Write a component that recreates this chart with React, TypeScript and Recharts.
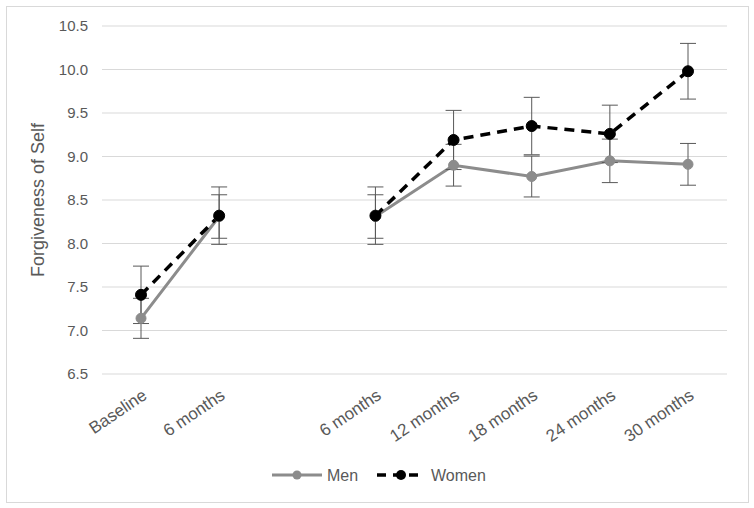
import React from "react";
import {
  LineChart,
  Line,
  XAxis,
  YAxis,
  CartesianGrid,
  ErrorBar,
  Legend,
} from "recharts";

const categories = ["Baseline", "6 months", "", "6 months", "12 months", "18 months", "24 months", "30 months"];
const menValues: (number | null)[] = [7.14, 8.31, null, 8.31, 8.9, 8.77, 8.95, 8.91];
const menErrors: (number | null)[] = [0.23, 0.25, null, 0.25, 0.24, 0.235, 0.25, 0.24];
const womenValues: (number | null)[] = [7.41, 8.32, null, 8.32, 9.19, 9.35, 9.26, 9.98];
const womenErrors: (number | null)[] = [0.33, 0.33, null, 0.33, 0.34, 0.33, 0.33, 0.32];
const yTicks = [6.5, 7.0, 7.5, 8.0, 8.5, 9.0, 9.5, 10.0, 10.5];

const data = categories.map((c, i) => ({
  key: `c${i}`,
  label: c,
  men: menValues[i],
  menErr: menErrors[i],
  women: womenValues[i],
  womenErr: womenErrors[i],
}));

const TEXT = "#595959";
const FONT = "'Liberation Sans', Arial, sans-serif";

const XTick = (props: any) => {
  const { x, y, payload } = props;
  const label = categories[payload.index] ?? "";
  return (
    <g transform={`translate(${x + 7},${y + 16})`}>
      <text
        x={0}
        y={0}
        textAnchor="end"
        transform="rotate(-34)"
        fill={TEXT}
        fontSize={17}
        fontFamily={FONT}
      >
        {label}
      </text>
    </g>
  );
};

const LegendContent = () => (
  <svg width={754} height={30} style={{ display: "block" }}>
    <g fontFamily={FONT} fontSize={16} fill={TEXT}>
      <line x1={272} x2={322} y1={15} y2={15} stroke="#8c8c8c" strokeWidth={3} />
      <circle cx={297} cy={15} r={4.5} fill="#8c8c8c" />
      <text x={327} y={15} dy="0.35em">Men</text>
      <line x1={377} x2={424} y1={15} y2={15} stroke="#000" strokeWidth={3.5} strokeDasharray="9 7" />
      <circle cx={401} cy={15} r={5} fill="#000" />
      <text x={431} y={15} dy="0.35em">Women</text>
    </g>
  </svg>
);

export default function App() {
  return (
    <div style={{ position: "absolute", left: 0, top: 0, width: 754, height: 508, background: "#fff" }}>
      <div
        style={{
          position: "absolute",
          left: 6,
          top: 6,
          width: 741,
          height: 495,
          border: "1px solid #d9d9d9",
        }}
      />
      <div style={{ position: "absolute", left: 0, top: 0 }}>
        <LineChart
          width={754}
          height={508}
          data={data}
          margin={{ top: 26, right: 27, left: 0, bottom: 10 }}
        >
          <CartesianGrid vertical={false} stroke="#d9d9d9" strokeWidth={1} />
          <XAxis
            dataKey="key"
            type="category"
            axisLine={false}
            tickLine={false}
            interval={0}
            height={94}
            padding={{ left: 39, right: 39 }}
            tick={<XTick />}
          />
          <YAxis
            width={102}
            domain={[6.5, 10.5]}
            ticks={yTicks}
            axisLine={false}
            tickLine={false}
            tickMargin={8}
            tickFormatter={(v: number) => v.toFixed(1)}
            tick={{ fill: TEXT, fontSize: 15, fontFamily: FONT }}
            label={{
              value: "Forgiveness of Self",
              angle: -90,
              position: "insideLeft",
              offset: 38,
              style: { fill: TEXT, fontSize: 18, fontFamily: FONT, textAnchor: "middle" },
            }}
          />
          <Legend
            verticalAlign="bottom"
            height={30}
            content={<LegendContent />}
            wrapperStyle={{ position: "absolute", left: 0, top: 460, width: 754 }}
          />
          <Line
            dataKey="men"
            stroke="#8c8c8c"
            strokeWidth={3}
            dot={{ r: 5, fill: "#8c8c8c", stroke: "#8c8c8c", strokeWidth: 1 }}
            isAnimationActive={false}
            connectNulls={false}
          >
            <ErrorBar dataKey="menErr" width={8} stroke="#595959" strokeWidth={1} direction="y" />
          </Line>
          <Line
            dataKey="women"
            stroke="#000"
            strokeWidth={3.5}
            strokeDasharray="10 7"
            dot={{ r: 5.5, fill: "#000", stroke: "#000", strokeWidth: 1, strokeDasharray: "" }}
            isAnimationActive={false}
            connectNulls={false}
          >
            <ErrorBar dataKey="womenErr" width={8} stroke="#595959" strokeWidth={1} direction="y" />
          </Line>
        </LineChart>
      </div>
    </div>
  );
}
